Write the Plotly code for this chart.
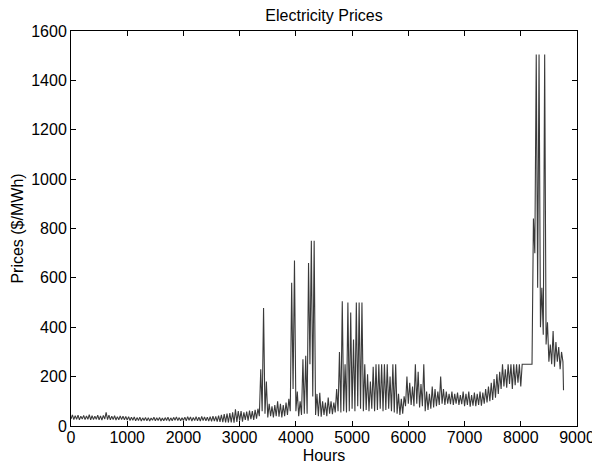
import plotly.graph_objects as go

block_start = list(range(0, 8760, 50))  # 0, 50, ..., 8750 (hours)

price_a = (
    [28, 26, 27, 25, 28, 26, 27, 25, 26, 27, 25, 24, 28, 26, 25, 26, 24, 25, 26, 25]          # 0-950
    + [24, 22, 23, 21, 22, 20, 22, 21, 20, 23, 21, 22, 20, 21, 22, 20, 21, 23, 22, 21]        # 1000-1950
    + [22, 21, 23, 20, 22, 21, 20, 22, 21, 20, 19, 20, 18, 17, 16, 15, 14, 15, 13, 16]        # 2000-2950
    + [22, 18, 25, 22, 28, 25, 30, 40, 60, 50, 35, 40, 35, 40, 38, 35, 40, 45, 60, 150]       # 3000-3950
    + [60, 40, 45, 50, 50, 250, 120, 45, 40, 38, 45, 40, 50, 48, 55, 60, 55, 60, 55, 60]      # 4000-4950
    + [70, 60, 80, 70, 60, 65, 60, 70, 60, 65, 70, 60, 65, 70, 60, 55, 50, 45, 50, 80]        # 5000-5950
    + [90, 85, 80, 90, 75, 80, 60, 65, 70, 75, 80, 85, 90, 85, 90, 88, 85, 90, 85, 88]        # 6000-6950
    + [80, 85, 78, 82, 80, 85, 82, 90, 95, 100, 105, 115, 130, 150, 160, 155, 170, 150, 165, 175]  # 7000-7950
    + [160, 250, 250, 250, 250, 700, 560, 400, 370, 330, 260, 250, 240, 260, 230, 260]       # 8000-8750
)
price_b = (
    [45, 42, 44, 40, 43, 41, 46, 42, 40, 44, 41, 43, 55, 44, 40, 42, 38, 41, 40, 39]
    + [38, 36, 37, 34, 36, 33, 35, 34, 32, 36, 33, 35, 32, 34, 36, 33, 35, 37, 34, 33]
    + [36, 38, 37, 35, 38, 36, 39, 37, 36, 38, 40, 39, 42, 45, 48, 50, 52, 55, 68, 60]
    + [60, 55, 58, 62, 60, 65, 70, 230, 478, 180, 90, 80, 85, 100, 90, 85, 95, 110, 580, 670]
    + [140, 100, 270, 285, 660, 750, 750, 130, 135, 100, 95, 115, 100, 95, 150, 300, 505, 250, 500, 460]
    + [350, 500, 500, 500, 250, 210, 180, 240, 250, 250, 250, 250, 250, 200, 250, 250, 130, 110, 120, 200]
    + [175, 160, 250, 220, 170, 250, 140, 130, 160, 150, 140, 200, 150, 140, 130, 140, 130, 135, 125, 140]
    + [130, 140, 125, 135, 130, 140, 135, 150, 160, 175, 190, 210, 220, 250, 230, 250, 250, 250, 250, 250]
    + [250, 250, 250, 250, 840, 1505, 1505, 560, 1505, 420, 330, 385, 340, 320, 300, 145]
)

x_ticks = [0, 1000, 2000, 3000, 4000, 5000, 6000, 7000, 8000, 9000]
y_ticks = [0, 200, 400, 600, 800, 1000, 1200, 1400, 1600]

hours, prices = [], []
for h, a, b in zip(block_start, price_a, price_b):
    hours += [h, min(h + 25, 8760)]
    prices += [a, b]

FONT = "Liberation Sans, Arial, Helvetica, sans-serif"

fig = go.Figure(
    go.Scatter(x=hours, y=prices, mode="lines",
               line=dict(color="#3a3a3a", width=1.1), showlegend=False)
)

axis_common = dict(
    showline=True, linecolor="black", linewidth=1, mirror="ticks",
    ticks="inside", ticklen=5, tickcolor="black", tickwidth=1,
    showgrid=False, zeroline=False, automargin=False,
    tickfont=dict(family=FONT, size=16, color="black"),
)

# The page body adds an 8px offset, so the figure is 592x460
W, H = 592, 460
fig.update_layout(
    width=W, height=H,
    margin=dict(l=63, r=23, t=23, b=42, autoexpand=False),
    paper_bgcolor="white", plot_bgcolor="white",
    title=dict(text="Electricity Prices", x=0.5, xref="paper", xanchor="center",
               y=1 - 7 / H, yref="container", yanchor="middle",
               font=dict(family=FONT, size=16, color="black"), automargin=False),
    xaxis=dict(range=[0, 9000], tickvals=x_ticks, ticklabelstandoff=-3, **axis_common,
               title=dict(text="Hours", font=dict(family=FONT, size=16, color="black"), standoff=4)),
    yaxis=dict(range=[0, 1600], tickvals=y_ticks, **axis_common,
               title=dict(text="Prices ($/MWh)", font=dict(family=FONT, size=16, color="black"), standoff=3)),
)

fig.write_html("out.html")
